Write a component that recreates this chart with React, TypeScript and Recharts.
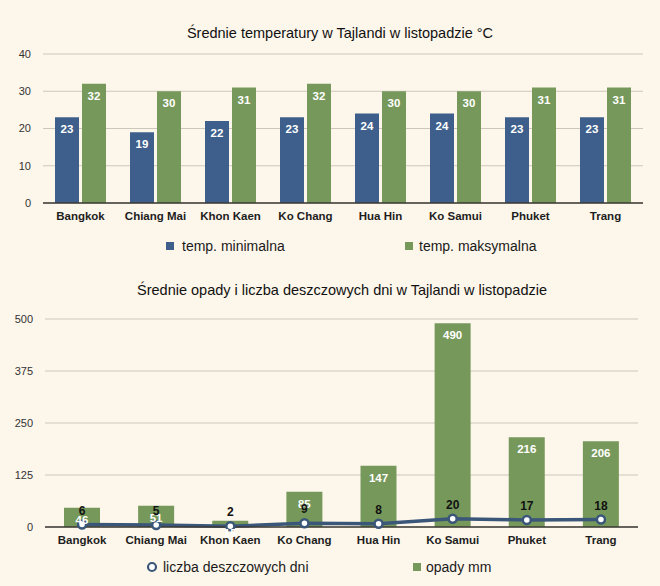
import {
  BarChart,
  Bar,
  ComposedChart,
  Line,
  XAxis,
  YAxis,
  CartesianGrid,
  Legend,
  LabelList
} from "recharts";

const cities = ["Bangkok", "Chiang Mai", "Khon Kaen", "Ko Chang", "Hua Hin", "Ko Samui", "Phuket", "Trang"];
const tempMin = [23, 19, 22, 23, 24, 24, 23, 23];
const tempMax = [32, 30, 31, 32, 30, 30, 31, 31];
const rainMm = [46, 51, 15, 85, 147, 490, 216, 206];
const rainDays = [6, 5, 2, 9, 8, 20, 17, 18];
const tempTicks = [0, 10, 20, 30, 40];
const rainTicks = [0, 125, 250, 375, 500];

const tempData = cities.map((city, i) => ({ city, min: tempMin[i], max: tempMax[i] }));
const rainData = cities.map((city, i) => ({ city, mm: rainMm[i], days: rainDays[i] }));

const BG = "#fdf6ea";
const BLUE = "#3e5f8b";
const GREEN = "#76995b";
const LINE = "#3a5679";
const GRID = "#cdc6ba";
const AXIS = "#3b3834";
const FONT = "'Liberation Sans', Arial, sans-serif";

const xTick = { fontSize: 11.5, fontWeight: "bold", fill: "#1e1e1e", fontFamily: FONT };
const yTick = { fontSize: 11, fill: "#333", fontFamily: FONT };
const barLabel = { fontSize: 11.5, fontWeight: "bold", fill: "#fff", fontFamily: FONT };

const titleStyle = (x: number, y: number): any => ({
  position: "absolute",
  left: x,
  top: y,
  transform: "translateX(-50%)",
  whiteSpace: "nowrap",
  fontFamily: FONT,
  fontSize: 14.5,
  lineHeight: "18px",
  color: "#111"
});

const item = (x: number): any => ({
  position: "absolute",
  left: x,
  top: 0,
  lineHeight: "20px",
  fontSize: 14,
  whiteSpace: "nowrap",
  color: "#1a1a1a"
});

const TempLegend = () => (
  <div style={{ position: "relative", height: 20, fontFamily: FONT }}>
    <span style={{ position: "absolute", left: 166, top: 6, width: 8, height: 8, background: BLUE }} />
    <span style={item(182)}>temp. minimalna</span>
    <span style={{ position: "absolute", left: 405, top: 6, width: 8, height: 8, background: GREEN }} />
    <span style={item(419)}>temp. maksymalna</span>
  </div>
);

const RainLegend = () => (
  <div style={{ position: "relative", height: 20, fontFamily: FONT }}>
    <svg style={{ position: "absolute", left: 146, top: 4 }} width={12} height={12}>
      <circle cx={6} cy={6} r={4} fill="#fff" stroke={LINE} strokeWidth={2.2} />
    </svg>
    <span style={item(163)}>liczba deszczowych dni</span>
    <span style={{ position: "absolute", left: 413, top: 6, width: 8, height: 8, background: GREEN }} />
    <span style={item(426)}>opady mm</span>
  </div>
);

export default function App() {
  return (
    <div style={{ position: "absolute", left: 0, top: 0, width: 660, height: 586, background: BG, overflow: "hidden" }}>
      <div style={titleStyle(340, 24)}>Średnie temperatury w Tajlandi w listopadzie °C</div>
      <div style={{ position: "absolute", left: 0, top: 0 }}>
        <BarChart
          width={660}
          height={262}
          data={tempData}
          margin={{ top: 54, right: 17, left: 0, bottom: 6 }}
          barGap={3}
        >
          <CartesianGrid vertical={false} stroke={GRID} strokeWidth={1.2} />
          <XAxis
            dataKey="city"
            height={33}
            tickLine={false}
            tickSize={0}
            tickMargin={9}
            interval={0}
            tick={xTick}
            axisLine={{ stroke: AXIS, strokeWidth: 1.5 }}
          />
          <YAxis
            width={43}
            domain={[0, 40]}
            ticks={tempTicks}
            tickLine={false}
            tickSize={0}
            tickMargin={12}
            axisLine={false}
            tick={yTick}
          />
          <Legend verticalAlign="bottom" content={TempLegend} />
          <Bar dataKey="min" fill={BLUE} barSize={24} isAnimationActive={false}>
            <LabelList dataKey="min" position="insideTop" offset={8} style={barLabel} />
          </Bar>
          <Bar dataKey="max" fill={GREEN} barSize={24} isAnimationActive={false}>
            <LabelList dataKey="max" position="insideTop" offset={8} style={barLabel} />
          </Bar>
        </BarChart>
      </div>

      <div style={titleStyle(342, 281)}>Średnie opady i liczba deszczowych dni w Tajlandi w listopadzie</div>
      <div style={{ position: "absolute", left: 0, top: 265 }}>
        <ComposedChart
          width={660}
          height={321}
          data={rainData}
          margin={{ top: 54, right: 22, left: 0, bottom: 9 }}
        >
          <CartesianGrid vertical={false} stroke={GRID} strokeWidth={1.2} />
          <XAxis
            dataKey="city"
            height={30}
            tickLine={false}
            tickSize={0}
            tickMargin={9}
            interval={0}
            tick={xTick}
            axisLine={{ stroke: AXIS, strokeWidth: 1.5 }}
          />
          <YAxis
            width={45}
            domain={[0, 500]}
            ticks={rainTicks}
            tickLine={false}
            tickSize={0}
            tickMargin={12}
            axisLine={false}
            tick={yTick}
          />
          <Legend verticalAlign="bottom" content={RainLegend} />
          <Bar dataKey="mm" fill={GREEN} barSize={36} isAnimationActive={false}>
            <LabelList dataKey="mm" position="insideTop" offset={8} style={barLabel} />
          </Bar>
          <Line
            type="linear"
            dataKey="days"
            stroke={LINE}
            strokeWidth={3.5}
            dot={{ r: 4, fill: "#fff", stroke: LINE, strokeWidth: 2.5 }}
            isAnimationActive={false}
          >
            <LabelList
              dataKey="days"
              position="top"
              offset={10}
              style={{ fontSize: 12, fontWeight: "bold", fill: "#111", fontFamily: FONT }}
            />
          </Line>
        </ComposedChart>
      </div>
    </div>
  );
}
